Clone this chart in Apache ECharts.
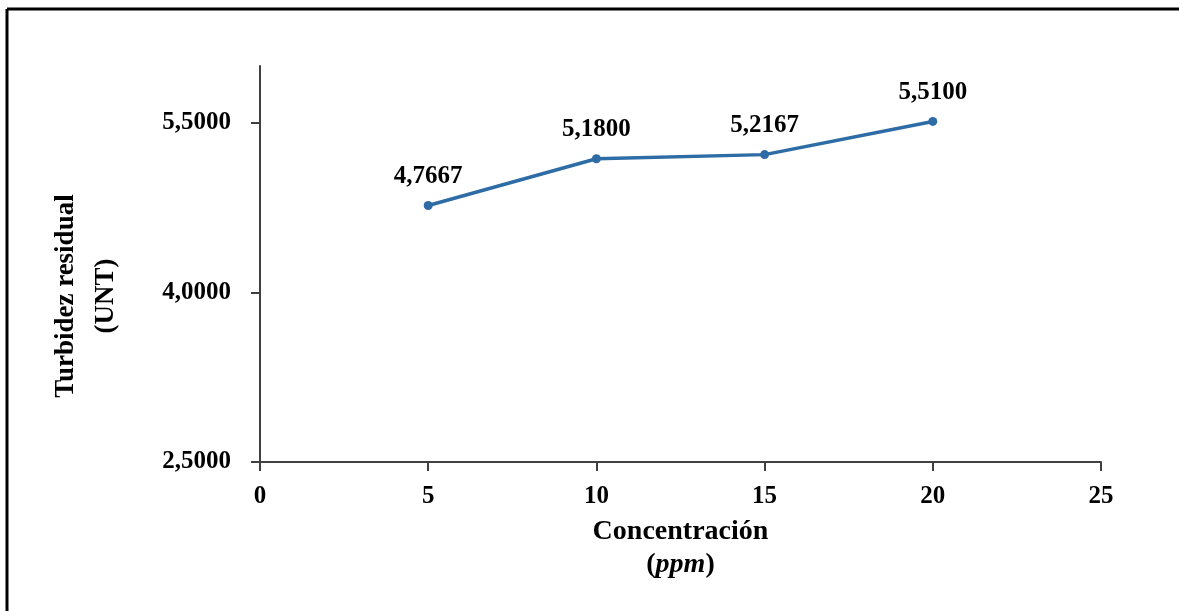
<!DOCTYPE html>
<html lang="es">
<head>
    <meta charset="utf-8">
    <title>Turbidez residual vs Concentración</title>
    <script src="https://cdn.jsdelivr.net/npm/echarts@6/dist/echarts.min.js"></script>
    <style>
        html, body {
            margin: 0;
            padding: 0;
            background: #ffffff;
        }
        #chart {
            width: 1179px;
            height: 611px;
        }
    </style>
</head>
<body>
    <div id="chart"></div>

    <script>
        // datos
        var concentracion = [5, 10, 15, 20];
        var turbidez = [4.7667, 5.1800, 5.2167, 5.5100];
        var yTicks = [2.5, 4.0, 5.5];
        var xTicks = [0, 5, 10, 15, 20, 25];

        var serif = '"Liberation Serif", "Times New Roman", serif';

        function coma(v) {
            return v.toFixed(4).replace('.', ',');
        }

        var puntos = concentracion.map(function (c, i) {
            return [c, turbidez[i]];
        });

        var myChart = echarts.init(document.getElementById('chart'));

        var option = {
            backgroundColor: '#ffffff',
            animation: false,
            grid: {
                left: 260,
                right: 78,
                top: 66,
                bottom: 149
            },
            xAxis: {
                type: 'value',
                min: 0,
                max: 25,
                interval: 5,
                splitLine: { show: false },
                axisLine: { lineStyle: { color: '#404040', width: 2 } },
                axisTick: { inside: false, length: 9, lineStyle: { color: '#404040', width: 2 } },
                axisLabel: {
                    margin: 22,
                    color: '#000',
                    fontFamily: serif,
                    fontWeight: 'bold',
                    fontSize: 25,
                    customValues: xTicks
                },
                name: 'Concentración\n({i|ppm})',
                nameLocation: 'middle',
                nameGap: 53,
                nameTextStyle: {
                    color: '#000',
                    fontFamily: serif,
                    fontWeight: 'bold',
                    fontSize: 28,
                    lineHeight: 33,
                    rich: {
                        i: {
                            fontFamily: serif,
                            fontWeight: 'bold',
                            fontStyle: 'italic',
                            fontSize: 28,
                            color: '#000'
                        }
                    }
                }
            },
            yAxis: {
                type: 'value',
                min: 2.5,
                max: 6.0,
                interval: 1.5,
                splitLine: { show: false },
                axisLine: { show: true, lineStyle: { color: '#404040', width: 2 } },
                axisTick: {
                    show: true,
                    inside: false,
                    length: 9,
                    customValues: yTicks,
                    lineStyle: { color: '#404040', width: 2 }
                },
                axisLabel: {
                    margin: 29,
                    color: '#000',
                    fontFamily: serif,
                    fontWeight: 'bold',
                    fontSize: 25,
                    customValues: yTicks,
                    formatter: function (v) { return coma(v); }
                }
            },
            graphic: [
                // marco (solo arriba e izquierda visibles)
                {
                    type: 'line',
                    shape: { x1: 7, y1: 9, x2: 1179, y2: 9 },
                    style: { stroke: '#000', lineWidth: 3 }
                },
                {
                    type: 'line',
                    shape: { x1: 7, y1: 9, x2: 7, y2: 611 },
                    style: { stroke: '#000', lineWidth: 3 }
                },
                {
                    type: 'text',
                    x: 66,
                    y: 296,
                    rotation: Math.PI / 2,
                    style: {
                        text: 'Turbidez residual',
                        fill: '#000',
                        font: 'bold 27px ' + serif,
                        align: 'center',
                        verticalAlign: 'middle'
                    }
                },
                {
                    type: 'text',
                    x: 106,
                    y: 296,
                    rotation: Math.PI / 2,
                    style: {
                        text: '(UNT)',
                        fill: '#000',
                        font: 'bold 27px ' + serif,
                        align: 'center',
                        verticalAlign: 'middle'
                    }
                }
            ],
            series: [
                {
                    type: 'line',
                    data: puntos,
                    symbol: 'circle',
                    symbolSize: 9,
                    itemStyle: { color: '#2E6CA5' },
                    lineStyle: { color: '#2E6CA5', width: 3.5 },
                    label: {
                        show: true,
                        position: 'top',
                        distance: 12,
                        color: '#000',
                        fontFamily: serif,
                        fontWeight: 'bold',
                        fontSize: 25,
                        formatter: function (p) { return coma(p.value[1]); }
                    }
                }
            ]
        };

        myChart.setOption(option);
    </script>
</body>
</html>
